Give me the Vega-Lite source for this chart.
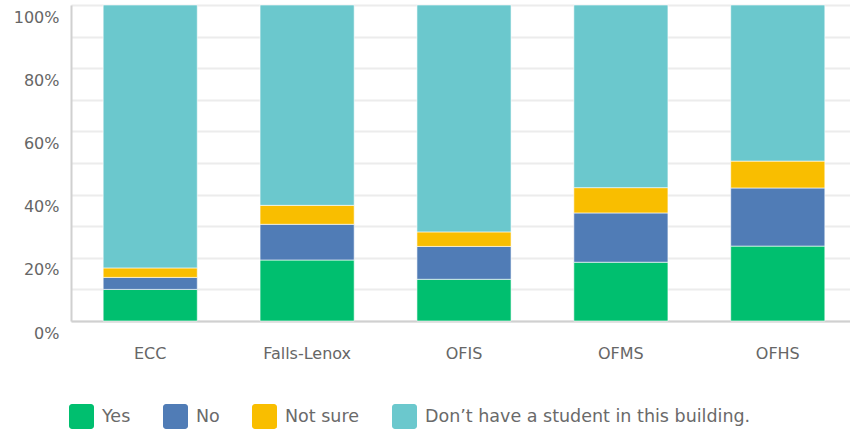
{
  "$schema": "https://vega.github.io/schema/vega-lite/v6.json",
  "width": 786,
  "height": 316,
  "autosize": {"type": "none"},
  "padding": {"left": 71, "top": 5, "right": 0, "bottom": 112},
  "background": "white",
  "data": {
    "values": [
      {"school": "ECC", "answer": "Yes", "option_no": 1, "pct": 10.0},
      {"school": "ECC", "answer": "No", "option_no": 2, "pct": 3.8},
      {"school": "ECC", "answer": "Not sure", "option_no": 3, "pct": 3.0},
      {"school": "ECC", "answer": "Don’t have a student in this building.", "option_no": 4, "pct": 83.2},
      {"school": "Falls-Lenox", "answer": "Yes", "option_no": 1, "pct": 19.3},
      {"school": "Falls-Lenox", "answer": "No", "option_no": 2, "pct": 11.3},
      {"school": "Falls-Lenox", "answer": "Not sure", "option_no": 3, "pct": 6.0},
      {"school": "Falls-Lenox", "answer": "Don’t have a student in this building.", "option_no": 4, "pct": 63.4},
      {"school": "OFIS", "answer": "Yes", "option_no": 1, "pct": 13.2},
      {"school": "OFIS", "answer": "No", "option_no": 2, "pct": 10.4},
      {"school": "OFIS", "answer": "Not sure", "option_no": 3, "pct": 4.6},
      {"school": "OFIS", "answer": "Don’t have a student in this building.", "option_no": 4, "pct": 71.8},
      {"school": "OFMS", "answer": "Yes", "option_no": 1, "pct": 18.6},
      {"school": "OFMS", "answer": "No", "option_no": 2, "pct": 15.6},
      {"school": "OFMS", "answer": "Not sure", "option_no": 3, "pct": 8.0},
      {"school": "OFMS", "answer": "Don’t have a student in this building.", "option_no": 4, "pct": 57.8},
      {"school": "OFHS", "answer": "Yes", "option_no": 1, "pct": 23.7},
      {"school": "OFHS", "answer": "No", "option_no": 2, "pct": 18.4},
      {"school": "OFHS", "answer": "Not sure", "option_no": 3, "pct": 8.5},
      {"school": "OFHS", "answer": "Don’t have a student in this building.", "option_no": 4, "pct": 49.4}
    ]
  },
  "mark": {"type": "bar", "stroke": "white", "strokeWidth": 1, "strokeOpacity": 0.6},
  "encoding": {
    "x": {
      "field": "school",
      "type": "nominal",
      "sort": null,
      "scale": {"paddingInner": 0.4, "paddingOuter": 0.205},
      "axis": {
        "title": null,
        "labelAngle": 0,
        "ticks": false,
        "labelPadding": 24,
        "labelFont": "DejaVu Sans",
        "labelFontSize": 16,
        "labelColor": "#666666",
        "domainColor": "#d0d0d0",
        "domainWidth": 2
      }
    },
    "y": {
      "field": "pct",
      "type": "quantitative",
      "stack": "normalize",
      "scale": {"domain": [0, 1], "nice": false},
      "axis": {
        "title": null,
        "values": [0, 0.1, 0.2, 0.3, 0.4, 0.5, 0.6, 0.7, 0.8, 0.9, 1],
        "format": ".0%",
        "labelExpr": "round(datum.value*10) % 2 == 0 ? datum.label : ''",
        "ticks": false,
        "labelPadding": 12,
        "labelBaseline": "top",
        "labelOffset": 4,
        "labelFont": "DejaVu Sans",
        "labelFontSize": 16,
        "labelColor": "#666666",
        "domainColor": "#d0d0d0",
        "domainWidth": 2,
        "grid": true,
        "gridColor": "#ececec",
        "gridWidth": 2
      }
    },
    "color": {
      "field": "answer",
      "type": "nominal",
      "sort": ["Yes", "No", "Not sure", "Don’t have a student in this building."],
      "scale": {
        "domain": ["Yes", "No", "Not sure", "Don’t have a student in this building."],
        "range": ["#00bf6f", "#507cb6", "#f9be00", "#6bc8cd"]
      },
      "legend": {
        "title": null,
        "orient": "none",
        "direction": "horizontal",
        "legendX": -2,
        "legendY": 399,
        "padding": 0,
        "columnPadding": 32,
        "labelOffset": 8,
        "symbolType": "M -0.76 -1 H 0.76 A 0.24 0.24 0 0 1 1 -0.76 V 0.76 A 0.24 0.24 0 0 1 0.76 1 H -0.76 A 0.24 0.24 0 0 1 -1 0.76 V -0.76 A 0.24 0.24 0 0 1 -0.76 -1 Z",
        "symbolSize": 625,
        "symbolStrokeWidth": 0,
        "symbolOpacity": 1,
        "labelFont": "DejaVu Sans",
        "labelFontSize": 17.5,
        "labelColor": "#6a6a6a",
        "labelLimit": 500
      }
    },
    "order": {"field": "option_no", "type": "quantitative", "sort": "ascending"}
  },
  "config": {"view": {"stroke": null}}
}
